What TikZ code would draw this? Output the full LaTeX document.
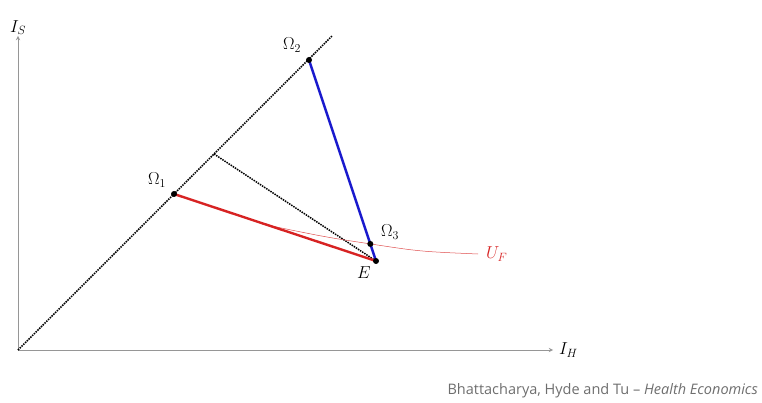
\documentclass[tikz,border=0pt]{standalone}
\usepackage{fontspec}
\newfontfamily\captionfont{Open Sans}
\usetikzlibrary{positioning, calc}
\definecolor{axisgray}{RGB}{150,150,150}
\definecolor{capgray}{RGB}{110,110,110}
\definecolor{omred}{RGB}{215,35,35}
\definecolor{omblue}{RGB}{25,25,205}

\begin{document}
\begin{tikzpicture}[
    x=1pt, y=-1pt,
    dot/.style={circle, fill=black, inner sep=0pt, minimum size=6pt},
    lab/.style={font=\fontsize{18}{20}\selectfont, inner sep=1pt},
    axis/.style={draw=axisgray, line width=0.9pt, ->, >=stealth},
    guide/.style={densely dotted, line width=1.5pt},
    budget/.style={line width=2.4pt}
]
    \useasboundingbox (0,0) rectangle (762,403);
    % points of the diagram
    \coordinate (origin) at (18,350);
    \coordinate (ytop) at (18,36);
    \coordinate (xend) at (553,350);
    \coordinate (diagend) at (332,36);
    \coordinate (foot) at (214,154);
    \coordinate (om1) at (174,194);
    \coordinate (om2) at (309,60);
    \coordinate (eE) at (376,261);
    \coordinate (om3) at ($(om2)!0.915!(eE)$);
    \coordinate (ufstart) at (262,224);
    \coordinate (ufend) at (478,254);

    % axes
    \draw[axis] (origin) -- (ytop);
    \draw[axis] (origin) -- (xend);
    \node[lab, above=0pt of ytop] (isname) {$I_S$};
    \node[lab, right=5pt of xend] (ihname) {$I_H$};

    % certainty line and dotted guide
    \draw[guide] (origin) -- (diagend);
    \draw[guide] (foot) -- (eE);

    % indifference curve
    \draw[omred!80, line width=0.5pt] (ufstart) .. controls (325,237) .. (om3)
        .. controls (420,251.5) .. (ufend);
    \node[lab, text=omred, right=7pt of ufend] (ufname) {$U_F$};

    % lines to the endowment
    \draw[budget, omred] (om1) -- (eE);
    \draw[budget, omblue] (om2) -- (eE);

    % dots and labels
    \node[dot] (d1) at (om1) {};
    \node[dot] (d2) at (om2) {};
    \node[dot] (d3) at (om3) {};
    \node[dot] (de) at (eE) {};
    \node[lab] (om1name) at (157,180) {$\Omega_1$};
    \node[lab] (om2name) at (292,45) {$\Omega_2$};
    \node[lab] (om3name) at (390,232) {$\Omega_3$};
    \node[lab] (ename) at (364,273) {$E$};

    % source
    \node[anchor=south east, text=capgray, inner sep=0pt,
          font=\captionfont\fontsize{14.5}{16}\selectfont] (source) at (758,398)
        {Bhattacharya, Hyde and Tu \textendash{} \textit{Health Economics}};
\end{tikzpicture}
\end{document}
